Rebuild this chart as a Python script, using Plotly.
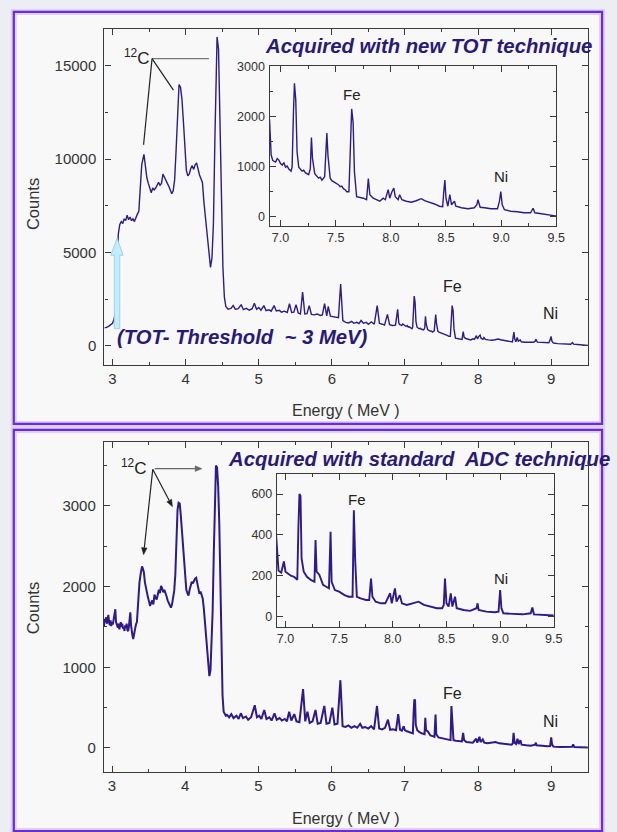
import math
import plotly.graph_objects as go

W, H = 617, 832
FONT = "Liberation Sans, Arial, sans-serif"

# ---------------- data: TOT spectrum (top panel), (energy MeV, counts) ----------------
tot_low = [
    (2.89, 960), (2.92, 980), (2.95, 1050), (2.98, 1150), (3.00, 1200), (3.02, 1400),
    (3.04, 1800), (3.06, 4200), (3.08, 6000), (3.10, 6500), (3.12, 6650), (3.14, 6550),
    (3.16, 6800), (3.18, 6700), (3.20, 7000), (3.22, 6750), (3.24, 6900), (3.26, 6700),
    (3.28, 6800), (3.30, 6650), (3.32, 6900), (3.34, 7050), (3.36, 7200), (3.38, 8700),
    (3.40, 9700), (3.43, 10250), (3.45, 9600), (3.47, 9000), (3.49, 8700), (3.51, 8400),
    (3.53, 8200), (3.55, 8450), (3.57, 8350), (3.59, 8450), (3.61, 8600), (3.63, 8750),
    (3.65, 8600), (3.67, 8700), (3.69, 9200), (3.71, 9000), (3.73, 8850), (3.75, 8700),
    (3.77, 8550), (3.79, 8300), (3.81, 8150), (3.83, 8300), (3.85, 8900), (3.87, 10500),
    (3.89, 12000), (3.91, 14000), (3.93, 13850), (3.95, 13200), (3.97, 12000), (3.99, 10700),
    (4.01, 9400), (4.03, 9100), (4.05, 9200), (4.07, 9500), (4.09, 9650), (4.11, 9450),
    (4.13, 9700), (4.15, 9800), (4.17, 9450), (4.19, 9150), (4.21, 8950), (4.23, 8750),
    (4.25, 7700), (4.27, 6900), (4.29, 6100), (4.31, 5300), (4.33, 4500), (4.34, 4200),
    (4.36, 4700), (4.38, 6500), (4.40, 11000), (4.42, 15500), (4.43, 16550), (4.45, 15900),
    (4.47, 12500), (4.49, 7800), (4.51, 4200), (4.53, 2600),
]
tot_mid = [
    (4.55, 2100), (4.58, 1950), (4.62, 2000), (4.65, 2150), (4.68, 1950), (4.72, 1980),
    (4.76, 2200), (4.79, 1930), (4.83, 2000), (4.87, 1900), (4.91, 1980), (4.94, 2280),
    (4.97, 1950), (5.00, 2050), (5.03, 1900), (5.07, 2150), (5.10, 1880), (5.14, 1920),
    (5.17, 1850), (5.21, 2150), (5.24, 1860), (5.28, 1900), (5.31, 1800), (5.35, 1850),
    (5.39, 1780), (5.42, 2250), (5.45, 1780), (5.48, 1800), (5.51, 2200), (5.54, 1750),
    (5.57, 1700), (5.60, 2870), (5.63, 1700), (5.66, 1720), (5.69, 2150), (5.72, 1680),
    (5.76, 1650), (5.80, 1700), (5.84, 1620), (5.87, 1650), (5.90, 2250), (5.93, 1600),
    (5.95, 2100), (5.98, 1580), (6.02, 1550), (6.06, 1500), (6.09, 1500), (6.12, 3310),
    (6.15, 1350), (6.19, 1250), (6.23, 1220), (6.27, 1300), (6.30, 1200), (6.34, 1250),
    (6.37, 1180), (6.40, 1350), (6.43, 1200), (6.47, 1250), (6.50, 1150), (6.54, 1280),
    (6.58, 1150), (6.62, 2150), (6.65, 1200), (6.69, 1150), (6.72, 1100), (6.76, 1680),
    (6.79, 1120), (6.83, 1080), (6.87, 1100),
]
tot_high = [
    (6.90, 1950), (6.915, 1230), (6.93, 1120), (6.955, 1090), (6.97, 1160), (6.985, 1130),
    (7.00, 1060), (7.015, 1030), (7.03, 1080), (7.045, 990), (7.06, 1010), (7.075, 950),
    (7.095, 910), (7.105, 990), (7.117, 2070), (7.126, 2660), (7.138, 2330), (7.15, 1290),
    (7.165, 990), (7.18, 940), (7.195, 910), (7.21, 930), (7.225, 880), (7.255, 840),
    (7.27, 960), (7.28, 1580), (7.29, 1160), (7.31, 860), (7.33, 800), (7.345, 770),
    (7.36, 790), (7.375, 730), (7.40, 800), (7.41, 1420), (7.42, 1670), (7.43, 1220),
    (7.45, 770), (7.465, 720), (7.48, 700), (7.495, 680), (7.51, 650), (7.525, 640),
    (7.54, 600), (7.555, 610), (7.57, 560), (7.585, 540), (7.60, 500), (7.62, 500),
    (7.634, 1420), (7.645, 2150), (7.658, 1880), (7.67, 900), (7.69, 400), (7.72, 390),
    (7.75, 370), (7.78, 340), (7.796, 760), (7.81, 440), (7.84, 370), (7.87, 340),
    (7.90, 310), (7.93, 370), (7.95, 340), (7.976, 540), (7.99, 370), (8.01, 500),
    (8.027, 570), (8.04, 400), (8.066, 340), (8.08, 440), (8.10, 340), (8.14, 310),
    (8.186, 290), (8.23, 320), (8.276, 360), (8.306, 320), (8.35, 290), (8.396, 255),
    (8.44, 210), (8.47, 200), (8.48, 500), (8.49, 730), (8.50, 370), (8.517, 210),
    (8.535, 440), (8.55, 240), (8.577, 310), (8.59, 210), (8.64, 180), (8.70, 160),
    (8.757, 180), (8.78, 240), (8.79, 340), (8.81, 190), (8.85, 180), (8.907, 160),
    (8.967, 160), (8.985, 310), (8.997, 500), (9.01, 240), (9.03, 140), (9.087, 110),
    (9.147, 100), (9.207, 80), (9.267, 80), (9.29, 170), (9.306, 80), (9.357, 60),
    (9.417, 35), (9.477, 15), (9.51, 12),
]

# ---------------- data: ADC spectrum (bottom panel) ----------------
adc_low = [
    (2.89, 1500), (2.90, 1600), (2.91, 1560), (2.92, 1620), (2.93, 1540), (2.94, 1590),
    (2.95, 1650), (2.96, 1560), (2.97, 1520), (2.98, 1580), (2.99, 1510), (3.00, 1560),
    (3.01, 1530), (3.02, 1580), (3.03, 1640), (3.045, 1720), (3.055, 1560), (3.07, 1530),
    (3.08, 1490), (3.09, 1540), (3.10, 1470), (3.11, 1520), (3.12, 1560), (3.13, 1500),
    (3.14, 1540), (3.15, 1480), (3.16, 1500), (3.17, 1450), (3.18, 1520), (3.19, 1490),
    (3.20, 1540), (3.21, 1460), (3.22, 1450), (3.23, 1500), (3.24, 1560), (3.25, 1680),
    (3.26, 1520), (3.27, 1420), (3.28, 1390), (3.29, 1350), (3.30, 1420), (3.31, 1460),
    (3.32, 1500), (3.33, 1540), (3.34, 1560), (3.35, 1700), (3.36, 1900), (3.375, 2050),
    (3.39, 2150), (3.41, 2250), (3.42, 2230), (3.435, 2180), (3.45, 2050), (3.46, 1990),
    (3.475, 1900), (3.49, 1870), (3.505, 1820), (3.52, 1760), (3.535, 1800), (3.55, 1830),
    (3.565, 1780), (3.58, 1900), (3.595, 1860), (3.61, 1840), (3.625, 1900), (3.64, 1960),
    (3.655, 1920), (3.67, 2010), (3.685, 1980), (3.70, 1930), (3.715, 1960), (3.73, 1900),
    (3.745, 1880), (3.76, 1830), (3.775, 1800), (3.79, 1760), (3.805, 1740), (3.82, 1780),
    (3.835, 1860), (3.85, 1950), (3.865, 2150), (3.88, 2550), (3.895, 2950), (3.91, 3040),
    (3.925, 3030), (3.94, 2880), (3.955, 2700), (3.97, 2500), (3.985, 2250), (4.00, 2070),
    (4.015, 1960), (4.03, 1920), (4.045, 1890), (4.06, 1960), (4.075, 2020), (4.09, 2060),
    (4.105, 2040), (4.12, 2080), (4.135, 2100), (4.15, 2110), (4.165, 2030), (4.18, 1980),
    (4.195, 1910), (4.21, 1940), (4.225, 1900), (4.24, 1850), (4.255, 1720), (4.27, 1560),
    (4.285, 1400), (4.30, 1230), (4.315, 1080), (4.33, 890), (4.345, 960), (4.36, 1250),
    (4.375, 1700), (4.39, 2400), (4.405, 3000), (4.42, 3500), (4.435, 3480), (4.45, 3250),
    (4.465, 2800), (4.48, 2000), (4.495, 1150), (4.51, 650), (4.525, 450), (4.54, 420),
    (4.555, 400),
]
adc_mid = [
    (4.57, 410), (4.60, 380), (4.63, 420), (4.66, 370), (4.70, 400), (4.73, 360),
    (4.76, 430), (4.79, 370), (4.83, 390), (4.86, 350), (4.90, 380), (4.95, 530),
    (4.98, 380), (5.01, 400), (5.04, 360), (5.08, 470), (5.11, 360), (5.15, 380),
    (5.18, 340), (5.22, 430), (5.25, 350), (5.29, 370), (5.32, 340), (5.36, 360),
    (5.39, 330), (5.42, 450), (5.45, 340), (5.49, 420), (5.52, 330), (5.56, 320),
    (5.61, 730), (5.64, 330), (5.67, 450), (5.70, 310), (5.74, 330), (5.78, 470),
    (5.81, 300), (5.85, 310), (5.90, 520), (5.93, 300), (5.97, 310), (6.01, 500),
    (6.04, 290), (6.08, 300), (6.12, 840), (6.15, 270), (6.19, 260), (6.23, 280),
    (6.27, 250), (6.31, 270), (6.35, 250), (6.39, 300), (6.42, 250), (6.46, 260),
    (6.50, 240), (6.54, 270), (6.58, 230), (6.62, 520), (6.65, 240), (6.69, 230),
    (6.73, 250), (6.77, 350), (6.80, 225), (6.84, 230), (6.88, 220), (6.91, 420),
]
adc_high = [
    (6.935, 225), (6.96, 215), (6.985, 270), (7.00, 220), (7.02, 210), (7.05, 200),
    (7.08, 195), (7.11, 180), (7.12, 430), (7.13, 600), (7.14, 590), (7.15, 285),
    (7.17, 220), (7.20, 195), (7.24, 178), (7.27, 170), (7.28, 375), (7.29, 220),
    (7.315, 205), (7.35, 155), (7.38, 146), (7.405, 138), (7.42, 415), (7.43, 170),
    (7.46, 130), (7.50, 122), (7.55, 105), (7.59, 97), (7.625, 97), (7.637, 520),
    (7.65, 268), (7.665, 97), (7.70, 89), (7.75, 81), (7.78, 81), (7.797, 186),
    (7.81, 97), (7.84, 73), (7.89, 65), (7.93, 65), (7.975, 114), (7.99, 65),
    (8.02, 138), (8.035, 73), (8.065, 105), (8.085, 65), (8.13, 57), (8.19, 65),
    (8.24, 73), (8.29, 57), (8.35, 49), (8.41, 41), (8.46, 41), (8.475, 57),
    (8.486, 186), (8.50, 65), (8.52, 49), (8.54, 114), (8.555, 49), (8.58, 97),
    (8.595, 41), (8.66, 32), (8.72, 28), (8.78, 41), (8.79, 65), (8.80, 32),
    (8.87, 24), (8.95, 21), (8.985, 24), (9.00, 130), (9.012, 41), (9.03, 16),
    (9.12, 13), (9.21, 11), (9.285, 16), (9.30, 44), (9.315, 11), (9.40, 8),
    (9.50, 5),
]

tot_points = tot_low + tot_mid + tot_high
adc_points = adc_low + adc_mid + adc_high
tot_energy = [p[0] for p in tot_points]
tot_counts = [p[1] for p in tot_points]
adc_energy = [p[0] for p in adc_points]
adc_counts = [p[1] for p in adc_points]

# ---------------- helpers ----------------
def px(x):
    return x / W

def py(y):
    return 1 - y / H

LINE = "#2e1a8a"
TEXTBLUE = "#2a1a78"
AX = "#3a3a3a"

fig = go.Figure()
fig.add_trace(go.Scatter(x=tot_energy, y=tot_counts, mode="lines", xaxis="x", yaxis="y",
                         line=dict(color=LINE, width=1.4), showlegend=False, hoverinfo="skip"))
fig.add_trace(go.Scatter(x=tot_energy, y=tot_counts, mode="lines", xaxis="x2", yaxis="y2",
                         line=dict(color=LINE, width=1.4), showlegend=False, hoverinfo="skip"))
fig.add_trace(go.Scatter(x=adc_energy, y=adc_counts, mode="lines", xaxis="x3", yaxis="y3",
                         line=dict(color=LINE, width=2.0), showlegend=False, hoverinfo="skip"))
fig.add_trace(go.Scatter(x=adc_energy, y=adc_counts, mode="lines", xaxis="x4", yaxis="y4",
                         line=dict(color=LINE, width=1.9), showlegend=False, hoverinfo="skip"))


def axis(domain, rng, dtick, minor_dtick, anchor, size, standoff, fmt="d", tick0=None):
    d = dict(domain=domain, range=rng, anchor=anchor, dtick=dtick,
             showline=True, linecolor=AX, linewidth=1.3, mirror="ticks",
             ticks="inside", tickcolor=AX, ticklen=6, tickwidth=1.2,
             showgrid=False, zeroline=False, tickformat=fmt,
             tickfont=dict(family=FONT, size=size, color="#333"),
             ticklabelstandoff=standoff,
             minor=dict(dtick=minor_dtick, ticks="inside", ticklen=3, tickcolor=AX, tickwidth=1))
    if tick0 is not None:
        d["tick0"] = tick0
    return d

fig.update_layout(
    width=W, height=H, margin=dict(l=0, r=0, t=0, b=0),
    paper_bgcolor="#eceef4", plot_bgcolor="rgba(0,0,0,0)",
    xaxis=axis([px(106), px(596.5)], [2.89, 9.5], 1, 0.5, "y", 15, 0, tick0=3),
    yaxis=axis([py(361.5), py(22.7)], [-1030, 17000], 5000, 2500, "x", 15, 4),
    xaxis2=axis([px(273.5), px(564.5)], [6.9, 9.5], 0.5, 0.25, "y2", 12.5, 0, ".1f", tick0=7),
    yaxis2=axis([py(221.7), py(60)], [-186, 3014], 1000, 500, "x2", 12.5, 1),
    xaxis3=axis([px(105.5), px(596.5)], [2.89, 9.5], 1, 0.5, "y3", 15, 0, tick0=3),
    yaxis3=axis([py(771.7), py(439)], [-300, 3795], 1000, 500, "x3", 15, 4),
    xaxis4=axis([px(281), px(562)], [6.92, 9.5], 0.5, 0.25, "y4", 12.5, 0, ".1f", tick0=7),
    yaxis4=axis([py(625.7), py(471)], [-52, 700], 200, 100, "x4", 12.5, 1),
)

shapes = []
# panel backgrounds and purple frames
for (x0, y0, x1, y1) in [(14, 6, 611, 421), (14, 427, 611, 831)]:
    shapes.append(dict(type="rect", xref="paper", yref="paper", layer="below",
                       x0=px(x0), x1=px(x1), y0=py(y1), y1=py(y0),
                       fillcolor="#f8f8f8", line=dict(color="#e0cff7", width=6)))
for (x0, y0, x1, y1) in [(14, 6, 611, 421), (14, 427, 611, 831)]:
    shapes.append(dict(type="rect", xref="paper", yref="paper", layer="below",
                       x0=px(x0), x1=px(x1), y0=py(y1), y1=py(y0),
                       fillcolor="rgba(0,0,0,0)", line=dict(color="#6a2bd8", width=2.2)))

# 12C indicator lines (top panel)
for (a, b, c, d, col) in [(154.3, 53, 212, 53, "#777"),
                          (154.3, 53, 145.7, 139.7, "#222"),
                          (154.3, 53, 176, 84.7, "#222")]:
    shapes.append(dict(type="line", xref="paper", yref="paper",
                       x0=px(a), y0=py(b), x1=px(c), y1=py(d), line=dict(color=col, width=1.2)))

# 12C arrows (bottom panel): line + triangular head
for (tx, ty, hx, hy, col) in [(155, 466.7, 145.7, 552.7, "#222"),
                              (155, 466.7, 175, 504.3, "#222"),
                              (157, 466, 205, 466, "#666")]:
    L = math.hypot(hx - tx, hy - ty)
    ux, uy = (hx - tx) / L, (hy - ty) / L
    bx, by = hx - 7 * ux, hy - 7 * uy
    shapes.append(dict(type="line", xref="paper", yref="paper",
                       x0=px(tx), y0=py(ty), x1=px(bx), y1=py(by), line=dict(color=col, width=1.2)))
    tri = [(hx, hy), (bx - 2.8 * uy, by + 2.8 * ux), (bx + 2.8 * uy, by - 2.8 * ux)]
    p = "M " + " L ".join(f"{px(a):.5f},{py(b):.5f}" for a, b in tri) + " Z"
    shapes.append(dict(type="path", xref="paper", yref="paper", path=p,
                       fillcolor=col, line=dict(color=col, width=0.5)))

# light-blue threshold arrow
arrow_pts = [(116, 325), (121.5, 325), (121.5, 251), (125, 251), (118.8, 234), (112.5, 251), (116, 251)]
path = "M " + " L ".join(f"{px(a):.5f},{py(b):.5f}" for a, b in arrow_pts) + " Z"
shapes.append(dict(type="path", xref="paper", yref="paper", path=path,
                   fillcolor="#c4ecfc", line=dict(color="#96d4f2", width=1)))

fig.update_layout(shapes=shapes)

ann = []

def text(x, y, s, size=15, color="#222", angle=0):
    ann.append(dict(x=px(x), y=py(y), xref="paper", yref="paper", text=s, showarrow=False,
                    xanchor="center", yanchor="middle", textangle=angle,
                    font=dict(family=FONT, size=size, color=color)))

text(435, 40, "<b><i>Acquired with new TOT technique</i></b>", 20.3, TEXTBLUE)
text(425, 456, "<b><i>Acquired with standard  ADC technique</i></b>", 20.3, TEXTBLUE)
text(246, 333, "<b><i>(TOT- Threshold  ~ 3 MeV)</i></b>", 20.3, TEXTBLUE)
text(139, 51, "<sup>12</sup>C", 17, "#222")
text(136, 464, "<sup>12</sup>C", 17, "#222")
text(459, 283, "Fe", 16)
text(559, 310, "Ni", 16)
text(357, 89, "Fe", 15)
text(508, 172, "Ni", 15)
text(459, 692, "Fe", 16)
text(559, 721, "Ni", 16)
text(362, 497, "Fe", 15)
text(508, 577, "Ni", 15)
text(33, 200, "Counts", 16.5, "#333", -90)
text(33, 607, "Counts", 16.5, "#333", -90)
text(351, 407, "Energy ( MeV )", 16, "#333")
text(351, 818, "Energy ( MeV )", 16, "#333")

fig.update_layout(annotations=ann)

fig.write_html("out.html")
